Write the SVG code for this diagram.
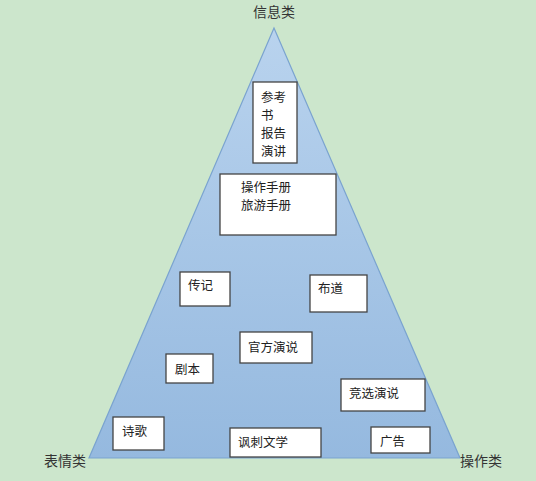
<svg xmlns="http://www.w3.org/2000/svg" width="536" height="481" viewBox="0 0 536 481">
<defs>
<linearGradient id="g" x1="0" y1="0" x2="0" y2="1">
<stop offset="0" stop-color="#b9d3ee"/>
<stop offset="1" stop-color="#95b9df"/>
</linearGradient>
<style>
text{font-family:"Noto Sans CJK SC","Liberation Sans",sans-serif;font-size:12.5px;fill:#222}
.lab{fill:#333;font-size:14px}
.box{fill:#fff;stroke:#444;stroke-width:1.3}
</style>
</defs>
<rect width="536" height="481" fill="#cce6cc"/>
<polygon points="274,28 89,458 460,458" fill="url(#g)" stroke="#7aa3cf" stroke-width="1.2"/>
<text class="lab" x="274" y="17" text-anchor="middle">信息类</text>
<text class="lab" x="44" y="466">表情类</text>
<text class="lab" x="460" y="466">操作类</text>
<g id="n1"><rect class="box" x="253" y="82" width="44" height="81"/><text x="261" y="102">参考</text><text x="261" y="120">书</text><text x="261" y="138">报告</text><text x="261" y="156">演讲</text></g>
<g id="n2"><rect class="box" x="220" y="174" width="116" height="61"/><text x="241" y="192">操作手册</text><text x="241" y="210">旅游手册</text></g>
<g id="n3"><rect class="box" x="180" y="272" width="50" height="34"/><text x="188" y="290">传记</text></g>
<g id="n4"><rect class="box" x="310" y="275" width="57" height="37"/><text x="318" y="293">布道</text></g>
<g id="n5"><rect class="box" x="240" y="332" width="72" height="31"/><text x="248" y="352">官方演说</text></g>
<g id="n6"><rect class="box" x="166" y="354" width="47" height="29"/><text x="175" y="374">剧本</text></g>
<g id="n7"><rect class="box" x="341" y="379" width="84" height="32"/><text x="349" y="398">竞选演说</text></g>
<g id="n8"><rect class="box" x="113" y="417" width="51" height="33"/><text x="122" y="436">诗歌</text></g>
<g id="n9"><rect class="box" x="230" y="428" width="91" height="29"/><text x="238" y="447">讽刺文学</text></g>
<g id="n10"><rect class="box" x="371" y="427" width="59" height="26"/><text x="380" y="446">广告</text></g>
<g id="connectors"/>
</svg>
